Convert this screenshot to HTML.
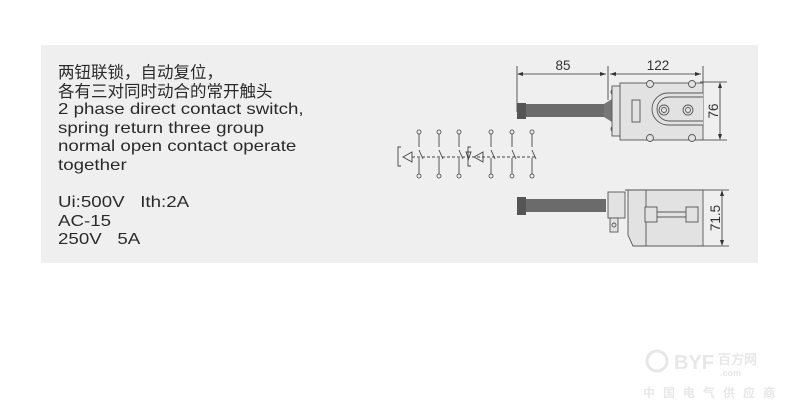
<!DOCTYPE html>
<html><head><meta charset="utf-8"><style>
body{margin:0;width:800px;height:413px;background:#fff;overflow:hidden;position:relative;font-family:"Liberation Sans","Noto Sans CJK SC",sans-serif}
.panel{position:absolute;left:41px;top:45px;width:717px;height:218px;background:#efefef}
.t{position:absolute;left:58px;color:#2a2a2a;font-size:16px;line-height:18.5px;white-space:nowrap;transform-origin:0 0}
.e{transform:scaleX(1.17)}
</style></head><body>
<div class="panel"></div>
<div class="t" style="top:64px;font-size:16.5px">两钮联锁，自动复位，<br>各有三对同时动合的常开触头</div>
<div class="t e" style="top:101px">2 phase direct contact switch,<br>spring return three group<br>normal open contact operate<br>together</div>
<div class="t e" style="top:194px">Ui:500V&nbsp;&nbsp;&nbsp;Ith:2A<br>AC-15<br>250V&nbsp;&nbsp;&nbsp;5A</div>
<svg width="800" height="413" viewBox="0 0 800 413" style="position:absolute;left:0;top:0">
<g stroke="#333" stroke-width="0.8" fill="none">
<line x1="517" y1="66" x2="517" y2="112"/>
<line x1="608" y1="66" x2="608" y2="100"/>
<line x1="703" y1="66" x2="703" y2="86"/>
<line x1="519" y1="74" x2="606" y2="74"/><line x1="610" y1="74" x2="701" y2="74"/>
<line x1="700" y1="82" x2="727" y2="82"/><line x1="700" y1="140" x2="727" y2="140"/>
<line x1="720" y1="84" x2="720" y2="138"/>
<line x1="700" y1="190" x2="729" y2="190"/><line x1="700" y1="246" x2="729" y2="246"/>
<line x1="722" y1="192" x2="722" y2="244"/>
</g>
<g fill="#333">
<path d="M517 74 l6 -2 v4z M606 74 l-6 -2 v4z M610 74 l6 -2 v4z M701 74 l-6 -2 v4z"/>
<path d="M720 82 l-2 6 h4z M720 140 l-2 -6 h4z M722 190 l-2 6 h4z M722 246 l-2 -6 h4z"/>
</g>
<g font-family="Liberation Sans" font-size="13.5" fill="#333" text-anchor="middle">
<text x="563" y="70">85</text><text x="658" y="70">122</text>
<text transform="translate(718,111) rotate(-90)">76</text>
<text transform="translate(720,218) rotate(-90)">71.5</text>
</g>
<rect x="517" y="103" width="9" height="16" fill="#555"/>
<rect x="526" y="104" width="78" height="13" fill="#6b6b6b"/>
<path d="M604 104 L612 99 L612 122 L604 117Z" fill="#777"/>
<g stroke="#555" stroke-width="0.9" fill="#e2e2e2">
<circle cx="614" cy="92" r="3"/><circle cx="614" cy="129" r="3"/>
<rect x="612" y="86" width="10" height="50"/>
<rect x="620" y="83" width="83" height="57"/>
<circle cx="650" cy="84" r="3.5"/><circle cx="692" cy="84" r="3.5"/>
<circle cx="650" cy="138" r="3.5"/><circle cx="692" cy="138" r="3.5"/>
<rect x="632" y="100" width="8" height="22"/>
<path d="M703 93 H668 A16 16 0 0 0 668 125 H703"/>
<path d="M703 97 H669 A12 12 0 0 0 669 121 H703"/>
<circle cx="664" cy="110" r="5"/><circle cx="688" cy="110" r="5"/>
<circle cx="664" cy="110" r="2.5"/><circle cx="688" cy="110" r="2.5"/>
</g>
<rect x="517" y="197" width="9" height="18" fill="#555"/>
<rect x="526" y="199" width="80" height="13" fill="#6b6b6b"/>
<g stroke="#555" stroke-width="0.9" fill="#e2e2e2">
<rect x="608" y="192" width="17" height="26"/>
<rect x="610" y="218" width="8" height="14"/>
<circle cx="614" cy="225" r="2"/>
<path d="M625 190 H703 V246 H633 L628 235 V190Z"/>
<line x1="646" y1="190" x2="646" y2="246"/>
<rect x="645" y="207" width="12" height="15"/><rect x="686" y="207" width="12" height="15"/>
<line x1="657" y1="212" x2="686" y2="212"/><line x1="657" y1="217" x2="686" y2="217"/>
</g>
<g stroke="#444" stroke-width="0.9" fill="none">
<path d="M401 147 h-3 v19 h3 M471 147 h-3 v19 h3"/>
<path d="M403 157 l9 -5 v10z M474 157 l9 -5 v10z M466 152 h5 l-2.5 7z"/>
<line x1="412" y1="157" x2="535" y2="157" stroke-dasharray="3,2"/>
<g id="sw">
<line x1="419" y1="134" x2="419" y2="147"/><line x1="419" y1="150" x2="423" y2="159"/><line x1="419" y1="158" x2="419" y2="174"/>
</g>
<use href="#sw" x="20"/><use href="#sw" x="40"/><use href="#sw" x="72"/><use href="#sw" x="93"/><use href="#sw" x="113"/>
</g>
<g fill="#efefef" stroke="#444" stroke-width="0.8">
<circle cx="419" cy="132" r="2"/><circle cx="439" cy="132" r="2"/><circle cx="459" cy="132" r="2"/><circle cx="491" cy="132" r="2"/><circle cx="512" cy="132" r="2"/><circle cx="532" cy="132" r="2"/>
<circle cx="419" cy="176" r="2"/><circle cx="439" cy="176" r="2"/><circle cx="459" cy="176" r="2"/><circle cx="491" cy="176" r="2"/><circle cx="512" cy="176" r="2"/><circle cx="532" cy="176" r="2"/>
</g>
<g opacity="0.35" fill="#bbb" font-family="Liberation Sans" font-weight="bold">
<circle cx="657" cy="361" r="10" fill="none" stroke="#bbb" stroke-width="3"/>
<text x="674" y="369" font-size="20">BYF</text>
<text x="718" y="364" font-size="13">百方网</text>
<text x="720" y="376" font-size="9">.com</text>
<text x="643" y="397" font-size="12" font-family="Noto Sans CJK SC" letter-spacing="8">中国电气供应商</text>
</g>
</svg>
</body></html>
